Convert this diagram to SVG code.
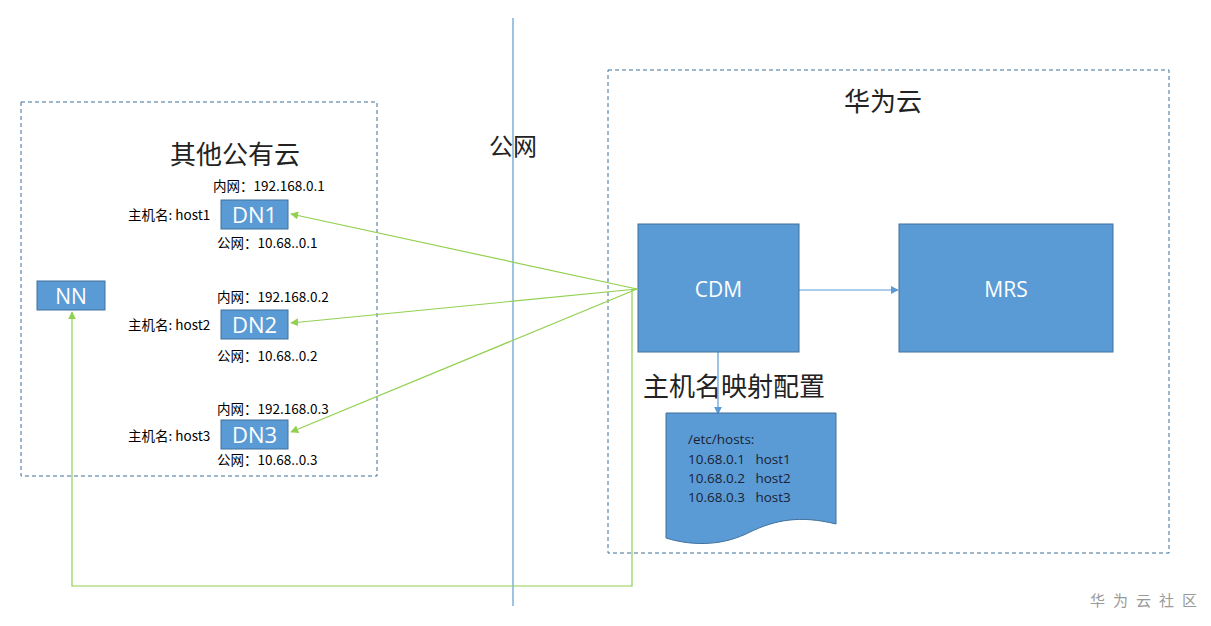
<svg xmlns="http://www.w3.org/2000/svg" width="1211" height="626" viewBox="0 0 1211 626">
<style>
.zone{fill:none;stroke:#41719c;stroke-width:1;stroke-dasharray:4,3}
.box{fill:#5b9bd5;stroke:#41719c;stroke-width:1}
.bt{font-family:"Open Sans","Liberation Sans",sans-serif;fill:#fff;text-anchor:middle}
.lbl{font-family:"Noto Sans CJK SC","Liberation Sans",sans-serif;font-size:13.5px;fill:#000}
.big{font-family:"Noto Sans CJK SC",sans-serif;font-size:26px;fill:#222}
.doc{font-family:"Open Sans","Liberation Sans",sans-serif;font-size:13.5px;fill:#1a2233}
.g{stroke:#92d050;stroke-width:1.2;fill:none}
.b{stroke:#5b9bd5;stroke-width:1.2;fill:none}
</style>
<defs>
<marker id="ag" viewBox="0 0 10 10" refX="9" refY="5" markerWidth="8" markerHeight="8" orient="auto" markerUnits="userSpaceOnUse"><path d="M0,0 L10,5 L0,10 z" fill="#92d050"/></marker>
<marker id="ab" viewBox="0 0 10 10" refX="9" refY="5" markerWidth="8" markerHeight="8" orient="auto" markerUnits="userSpaceOnUse"><path d="M0,0 L10,5 L0,10 z" fill="#5b9bd5"/></marker>
</defs>
<rect width="1211" height="626" fill="#fff"/>
<g id="zones">
<rect class="zone" x="21" y="102" width="356" height="374"/>
<rect class="zone" x="608" y="70" width="561" height="483"/>
<line x1="513" y1="18" x2="513" y2="606" stroke="#5b9bd5" stroke-width="1.2"/>
<text class="big" x="170" y="164">其他公有云</text>
<text class="big" x="489" y="155" style="font-size:24px">公网</text>
<text class="big" x="844" y="111">华为云</text>
</g>
<g id="connectors">
<line class="g" x1="637" y1="289" x2="291" y2="214" marker-end="url(#ag)"/>
<line class="g" x1="637" y1="289" x2="291" y2="323" marker-end="url(#ag)"/>
<line class="g" x1="637" y1="289" x2="291" y2="432" marker-end="url(#ag)"/>
<polyline class="g" points="632,289 632,586 72,586 72,312" marker-end="url(#ag)"/>
<line class="b" x1="799" y1="290" x2="898" y2="290" marker-end="url(#ab)"/>
<line class="b" x1="718" y1="352" x2="718" y2="414" marker-end="url(#ab)"/>
</g>
<g id="NN"><rect class="box" x="37" y="281" width="68" height="29"/><text class="bt" x="71" y="303.5" font-size="21">NN</text></g>
<g id="DN1">
<rect class="box" x="221" y="200" width="67" height="29"/><text class="bt" x="254.5" y="223" font-size="22">DN1</text>
<text class="lbl" x="213" y="191">内网：192.168.0.1</text>
<text class="lbl" x="128" y="220">主机名: host1</text>
<text class="lbl" x="217" y="248">公网：10.68..0.1</text>
</g>
<g id="DN2">
<rect class="box" x="221" y="310" width="67" height="29"/><text class="bt" x="254.5" y="333" font-size="22">DN2</text>
<text class="lbl" x="217" y="302">内网：192.168.0.2</text>
<text class="lbl" x="128" y="330">主机名: host2</text>
<text class="lbl" x="217" y="361">公网：10.68..0.2</text>
</g>
<g id="DN3">
<rect class="box" x="221" y="420" width="67" height="29"/><text class="bt" x="254.5" y="443" font-size="22">DN3</text>
<text class="lbl" x="217" y="414">内网：192.168.0.3</text>
<text class="lbl" x="128" y="441">主机名: host3</text>
<text class="lbl" x="217" y="465">公网：10.68..0.3</text>
</g>
<g id="CDM"><rect class="box" x="638" y="224" width="161" height="128"/><text class="bt" x="718.5" y="297" font-size="21">CDM</text></g>
<g id="MRS"><rect class="box" x="899" y="224" width="214" height="128"/><text class="bt" x="1006" y="297" font-size="21">MRS</text></g>
<g id="hosts">
<path class="box" d="M666,413 L836,413 L836,524 C800,515 775,520 750,532 C725,545 695,547 666,538 Z"/>
<text class="doc" x="688" y="444">/etc/hosts:</text>
<text class="doc" x="688" y="464" xml:space="preserve">10.68.0.1   host1</text>
<text class="doc" x="688" y="483" xml:space="preserve">10.68.0.2   host2</text>
<text class="doc" x="688" y="502" xml:space="preserve">10.68.0.3   host3</text>
<text class="big" x="643" y="396">主机名映射配置</text>
</g>
<text x="1090" y="606" font-family="Noto Sans CJK SC,sans-serif" font-size="15" fill="#999" letter-spacing="8">华为云社区</text>
</svg>
